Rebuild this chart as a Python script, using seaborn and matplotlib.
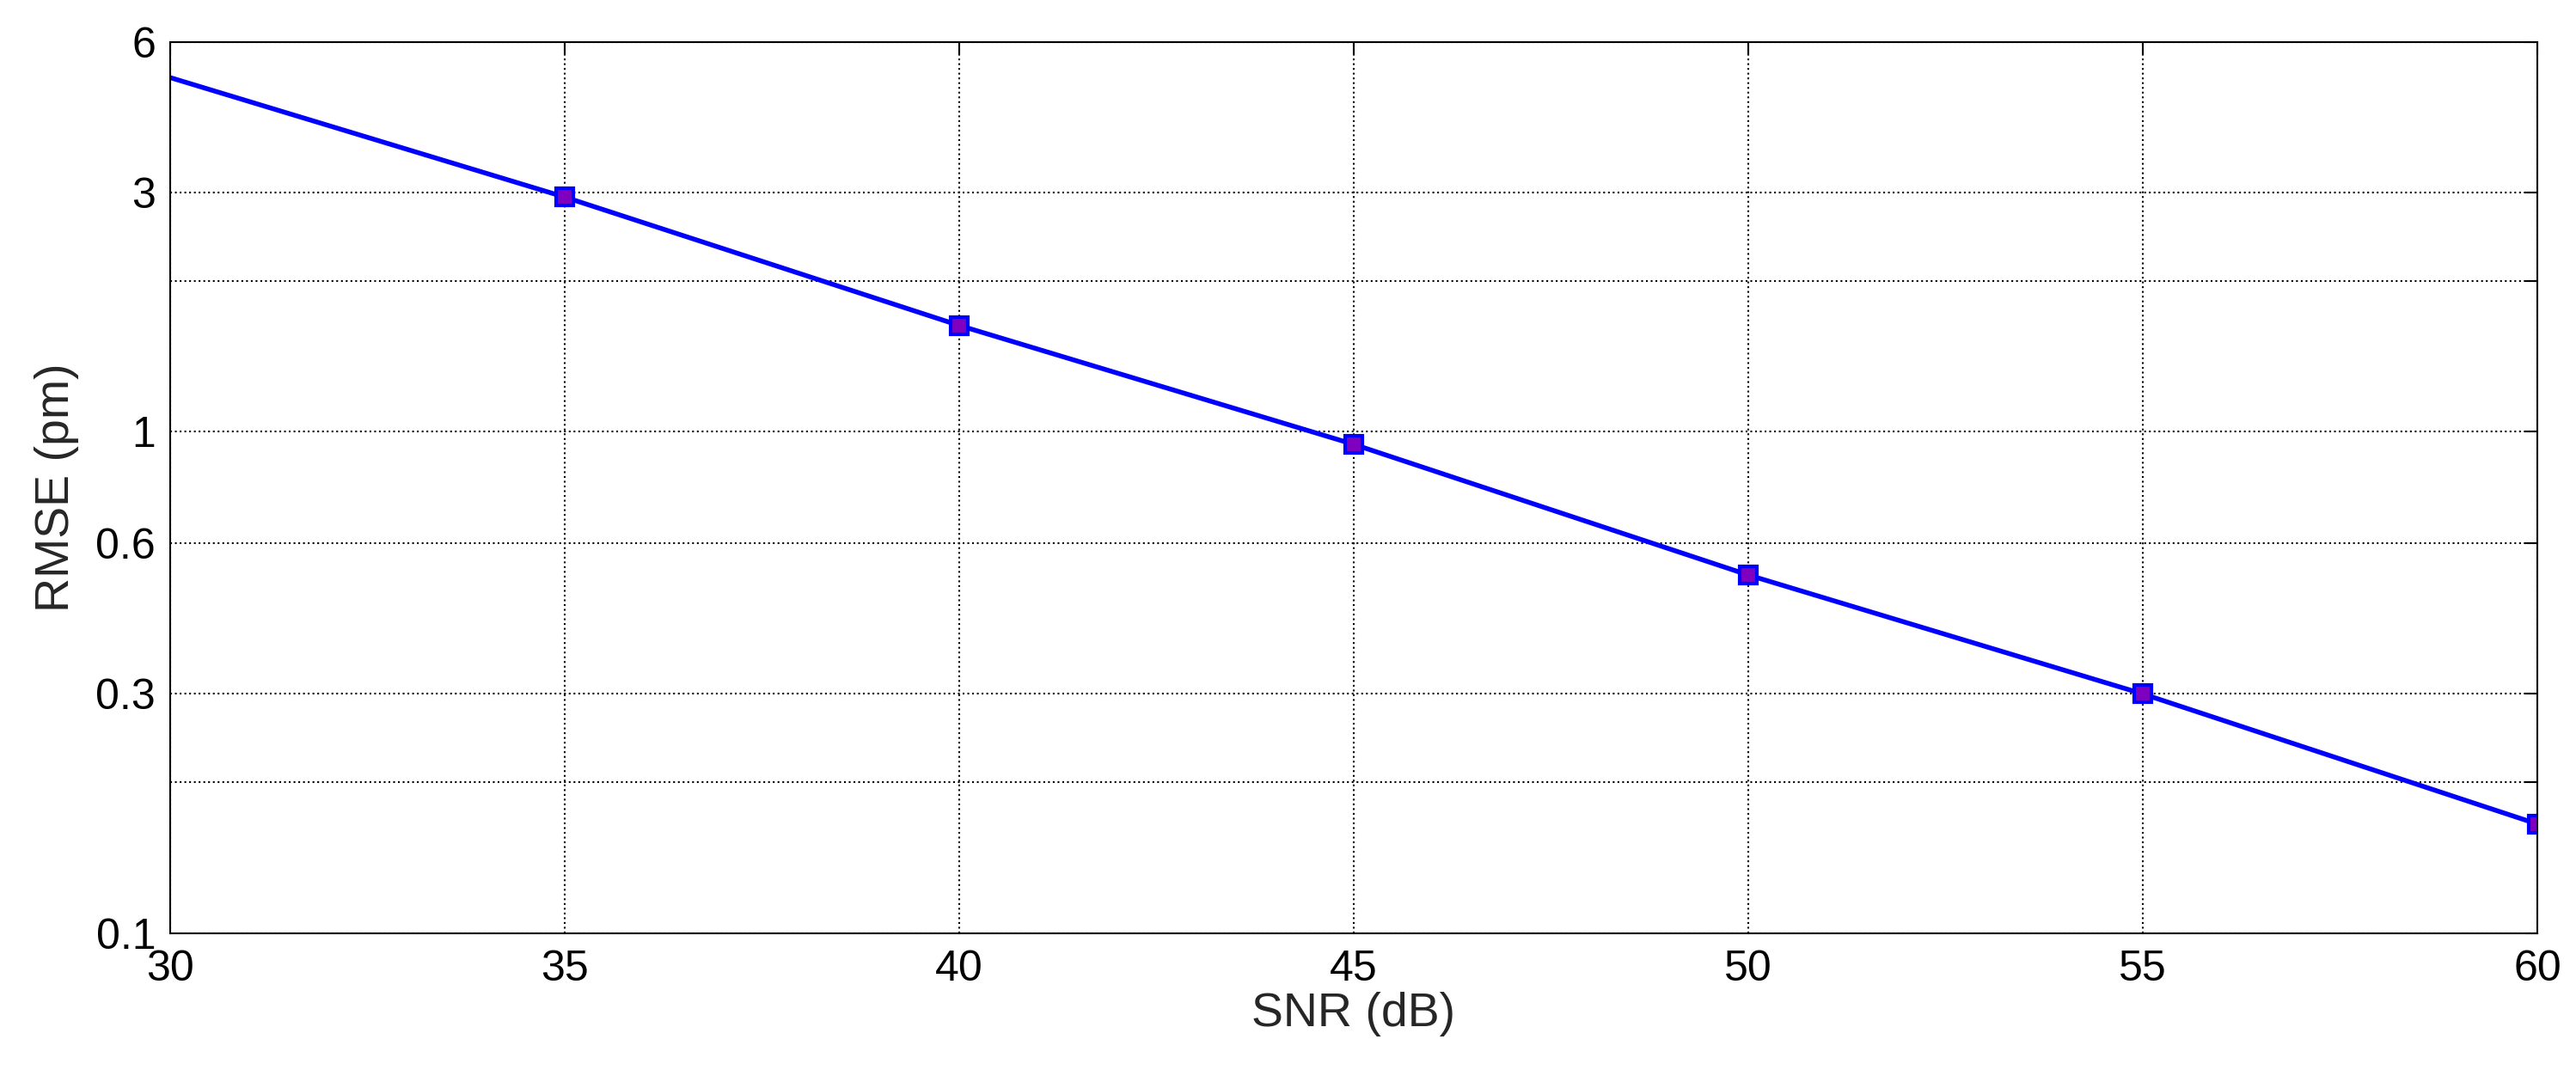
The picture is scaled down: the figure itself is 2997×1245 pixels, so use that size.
import matplotlib
matplotlib.use("Agg")
import matplotlib.pyplot as plt
import matplotlib.ticker as mticker
import pandas as pd
import seaborn as sns

snr_db = [30, 35, 40, 45, 50, 55, 60]
rmse_pm = [5.09, 2.94, 1.63, 0.944, 0.518, 0.30, 0.165]
y_ticks = [0.1, 0.2, 0.3, 0.6, 1, 2, 3, 6]
y_tick_labels = ["0.1", "", "0.3", "0.6", "1", "", "3", "6"]
x_ticks = [30, 35, 40, 45, 50, 55, 60]

sns.set_theme(style="white")
plt.rcParams["font.family"] = ["Liberation Sans", "DejaVu Sans"]

df = pd.DataFrame({"snr": snr_db, "rmse": rmse_pm})

fig = plt.figure(figsize=(29.97, 12.45), dpi=100)
ax = fig.add_axes([0.066, 0.128, 0.919, 0.833])
sns.lineplot(data=df, x="snr", y="rmse", ax=ax, color="#0000ff", linewidth=4,
             marker="s", markersize=14, markerfacecolor="#8000c0",
             markeredgecolor="#0000ff", markeredgewidth=3, markevery=list(range(1, 7)))
ax.set_yscale("log")
ax.set_xlim(30, 60)
ax.set_ylim(0.1, 6)
ax.set_xticks(x_ticks)
ax.set_yticks(y_ticks)
ax.yaxis.set_minor_locator(mticker.NullLocator())
ax.set_yticklabels(y_tick_labels)
ax.grid(True, linestyle=":", color="black", linewidth=1.5)
for s in ax.spines.values():
    s.set_color("black")
    s.set_linewidth(1.5)
ax.tick_params(labelsize=36, direction="in", length=10, width=1.5, colors="black",
               top=True, right=True)
ax.tick_params(axis="x", pad=14)
ax.tick_params(axis="y", pad=12)
ax.set_xlabel("SNR (dB)", fontsize=40, labelpad=2)
ax.set_ylabel("RMSE (pm)", fontsize=40, labelpad=14)
fig.savefig("out.png", dpi=100)
